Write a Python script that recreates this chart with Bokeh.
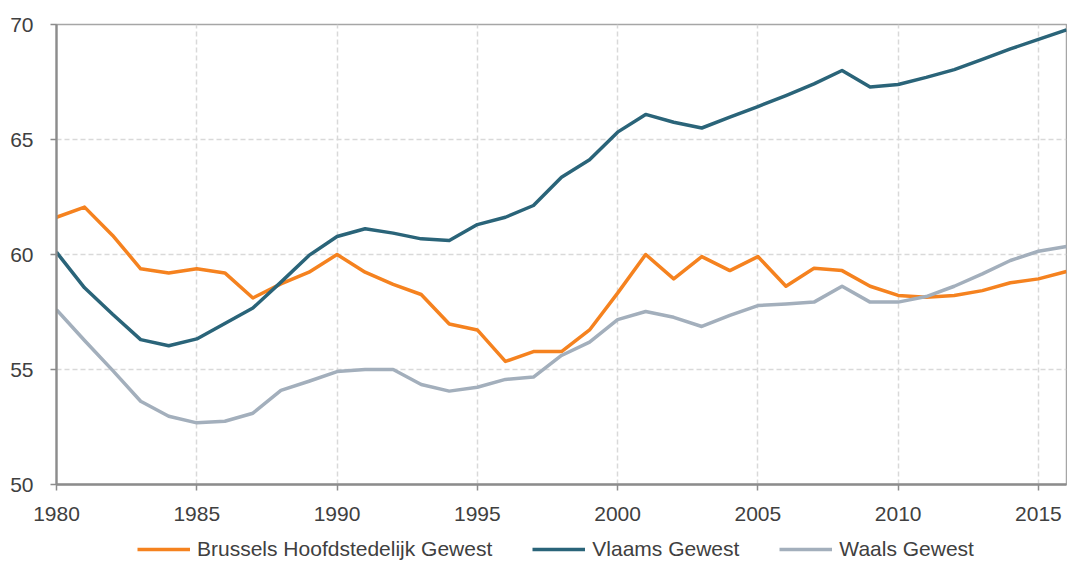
from bokeh.plotting import figure
from bokeh.models import Range1d, Legend, LegendItem, FixedTicker
from bokeh.layouts import column
from bokeh.embed import file_html
from bokeh.resources import INLINE

years = list(range(1980, 2017))

brussels = [61.62, 62.06, 60.83, 59.38, 59.20, 59.38, 59.20, 58.11, 58.72, 59.23,
            60.00, 59.23, 58.70, 58.26, 56.98, 56.72, 55.35, 55.78, 55.78, 56.72,
            58.32, 60.00, 58.94, 59.91, 59.30, 59.91, 58.62, 59.40, 59.30, 58.62,
            58.22, 58.14, 58.22, 58.43, 58.77, 58.94, 59.26]

vlaams = [60.10, 58.55, 57.40, 56.30, 56.03, 56.33, 57.00, 57.67, 58.80, 59.96,
          60.78, 61.12, 60.93, 60.68, 60.61, 61.30, 61.62, 62.13, 63.36, 64.12,
          65.32, 66.09, 65.75, 65.50, 65.97, 66.43, 66.91, 67.42, 68.00, 67.28,
          67.39, 67.70, 68.04, 68.48, 68.94, 69.35, 69.77]

waals = [57.60, 56.26, 54.96, 53.62, 52.97, 52.68, 52.75, 53.10, 54.09, 54.49,
         54.91, 55.00, 55.00, 54.35, 54.06, 54.23, 54.57, 54.67, 55.61, 56.19,
         57.17, 57.52, 57.27, 56.87, 57.35, 57.78, 57.85, 57.93, 58.62, 57.93,
         57.93, 58.17, 58.62, 59.16, 59.74, 60.14, 60.35]

series_names = ["Brussels Hoofdstedelijk Gewest", "Vlaams Gewest", "Waals Gewest"]
x_ticks = [1980, 1985, 1990, 1995, 2000, 2005, 2010, 2015]
y_ticks = [50, 55, 60, 65, 70]

colors = ["#F5821F", "#2A6479", "#A3AFBC"]
FONT = "Liberation Sans"
TXT = "#404040"
AX = "#8C8C8C"

p = figure(width=1067, height=531, output_backend="svg", toolbar_location=None,
           x_range=Range1d(1980, 2016), y_range=Range1d(50, 70),
           min_border_left=56, min_border_right=1, min_border_top=24,
           min_border_bottom=47)

p.outline_line_color = "#A6A6A6"
p.outline_line_width = 1.5

for ax, ticks in ((p.xaxis[0], x_ticks), (p.yaxis[0], y_ticks)):
    ax.ticker = FixedTicker(ticks=ticks)
    ax.axis_line_color = AX
    ax.axis_line_width = 2.3
    ax.major_tick_line_color = AX
    ax.major_tick_line_width = 1.5
    ax.major_tick_out = 6
    ax.major_tick_in = 0
    ax.minor_tick_line_color = None
    ax.major_label_text_font = FONT
    ax.major_label_text_font_size = "21px"
    ax.major_label_text_color = TXT

p.xaxis[0].major_label_standoff = 16
p.yaxis[0].major_label_standoff = 17

for g in (p.xgrid[0], p.ygrid[0]):
    g.grid_line_color = "#D9D9D9"
    g.grid_line_width = 1.5
    g.grid_line_dash = "5 3"
p.xgrid[0].ticker = FixedTicker(ticks=x_ticks)
p.ygrid[0].ticker = FixedTicker(ticks=y_ticks)

for vals, c in zip([brussels, vlaams, waals], colors):
    p.line(years, vals, line_color=c, line_width=3.5, line_join="round")

# legend-only strip below the chart
p2 = figure(width=1067, height=30, output_backend="svg", toolbar_location=None,
            x_range=Range1d(0, 1), y_range=Range1d(0, 1),
            min_border_left=56, min_border_right=1, min_border_top=0, min_border_bottom=0)
p2.axis.visible = False
p2.grid.visible = False
p2.outline_line_color = None

leg_renderers = []
for c in colors:
    leg_renderers.append(p2.line([-5, -4], [-5, -4], line_color=c, line_width=3.5))

legend = Legend(items=[LegendItem(label=n, renderers=[r]) for n, r in zip(series_names, leg_renderers)],
                orientation="horizontal", location=(81, 0),
                glyph_width=53, glyph_height=22, label_standoff=7, spacing=40,
                padding=0, margin=0, border_line_alpha=0, background_fill_alpha=0,
                label_text_font=FONT, label_text_font_size="21px",
                label_text_color=TXT, label_height=22)
p2.add_layout(legend, "center")

layout = column(p, p2, spacing=0)
open("out.html", "w").write(file_html(layout, INLINE))
